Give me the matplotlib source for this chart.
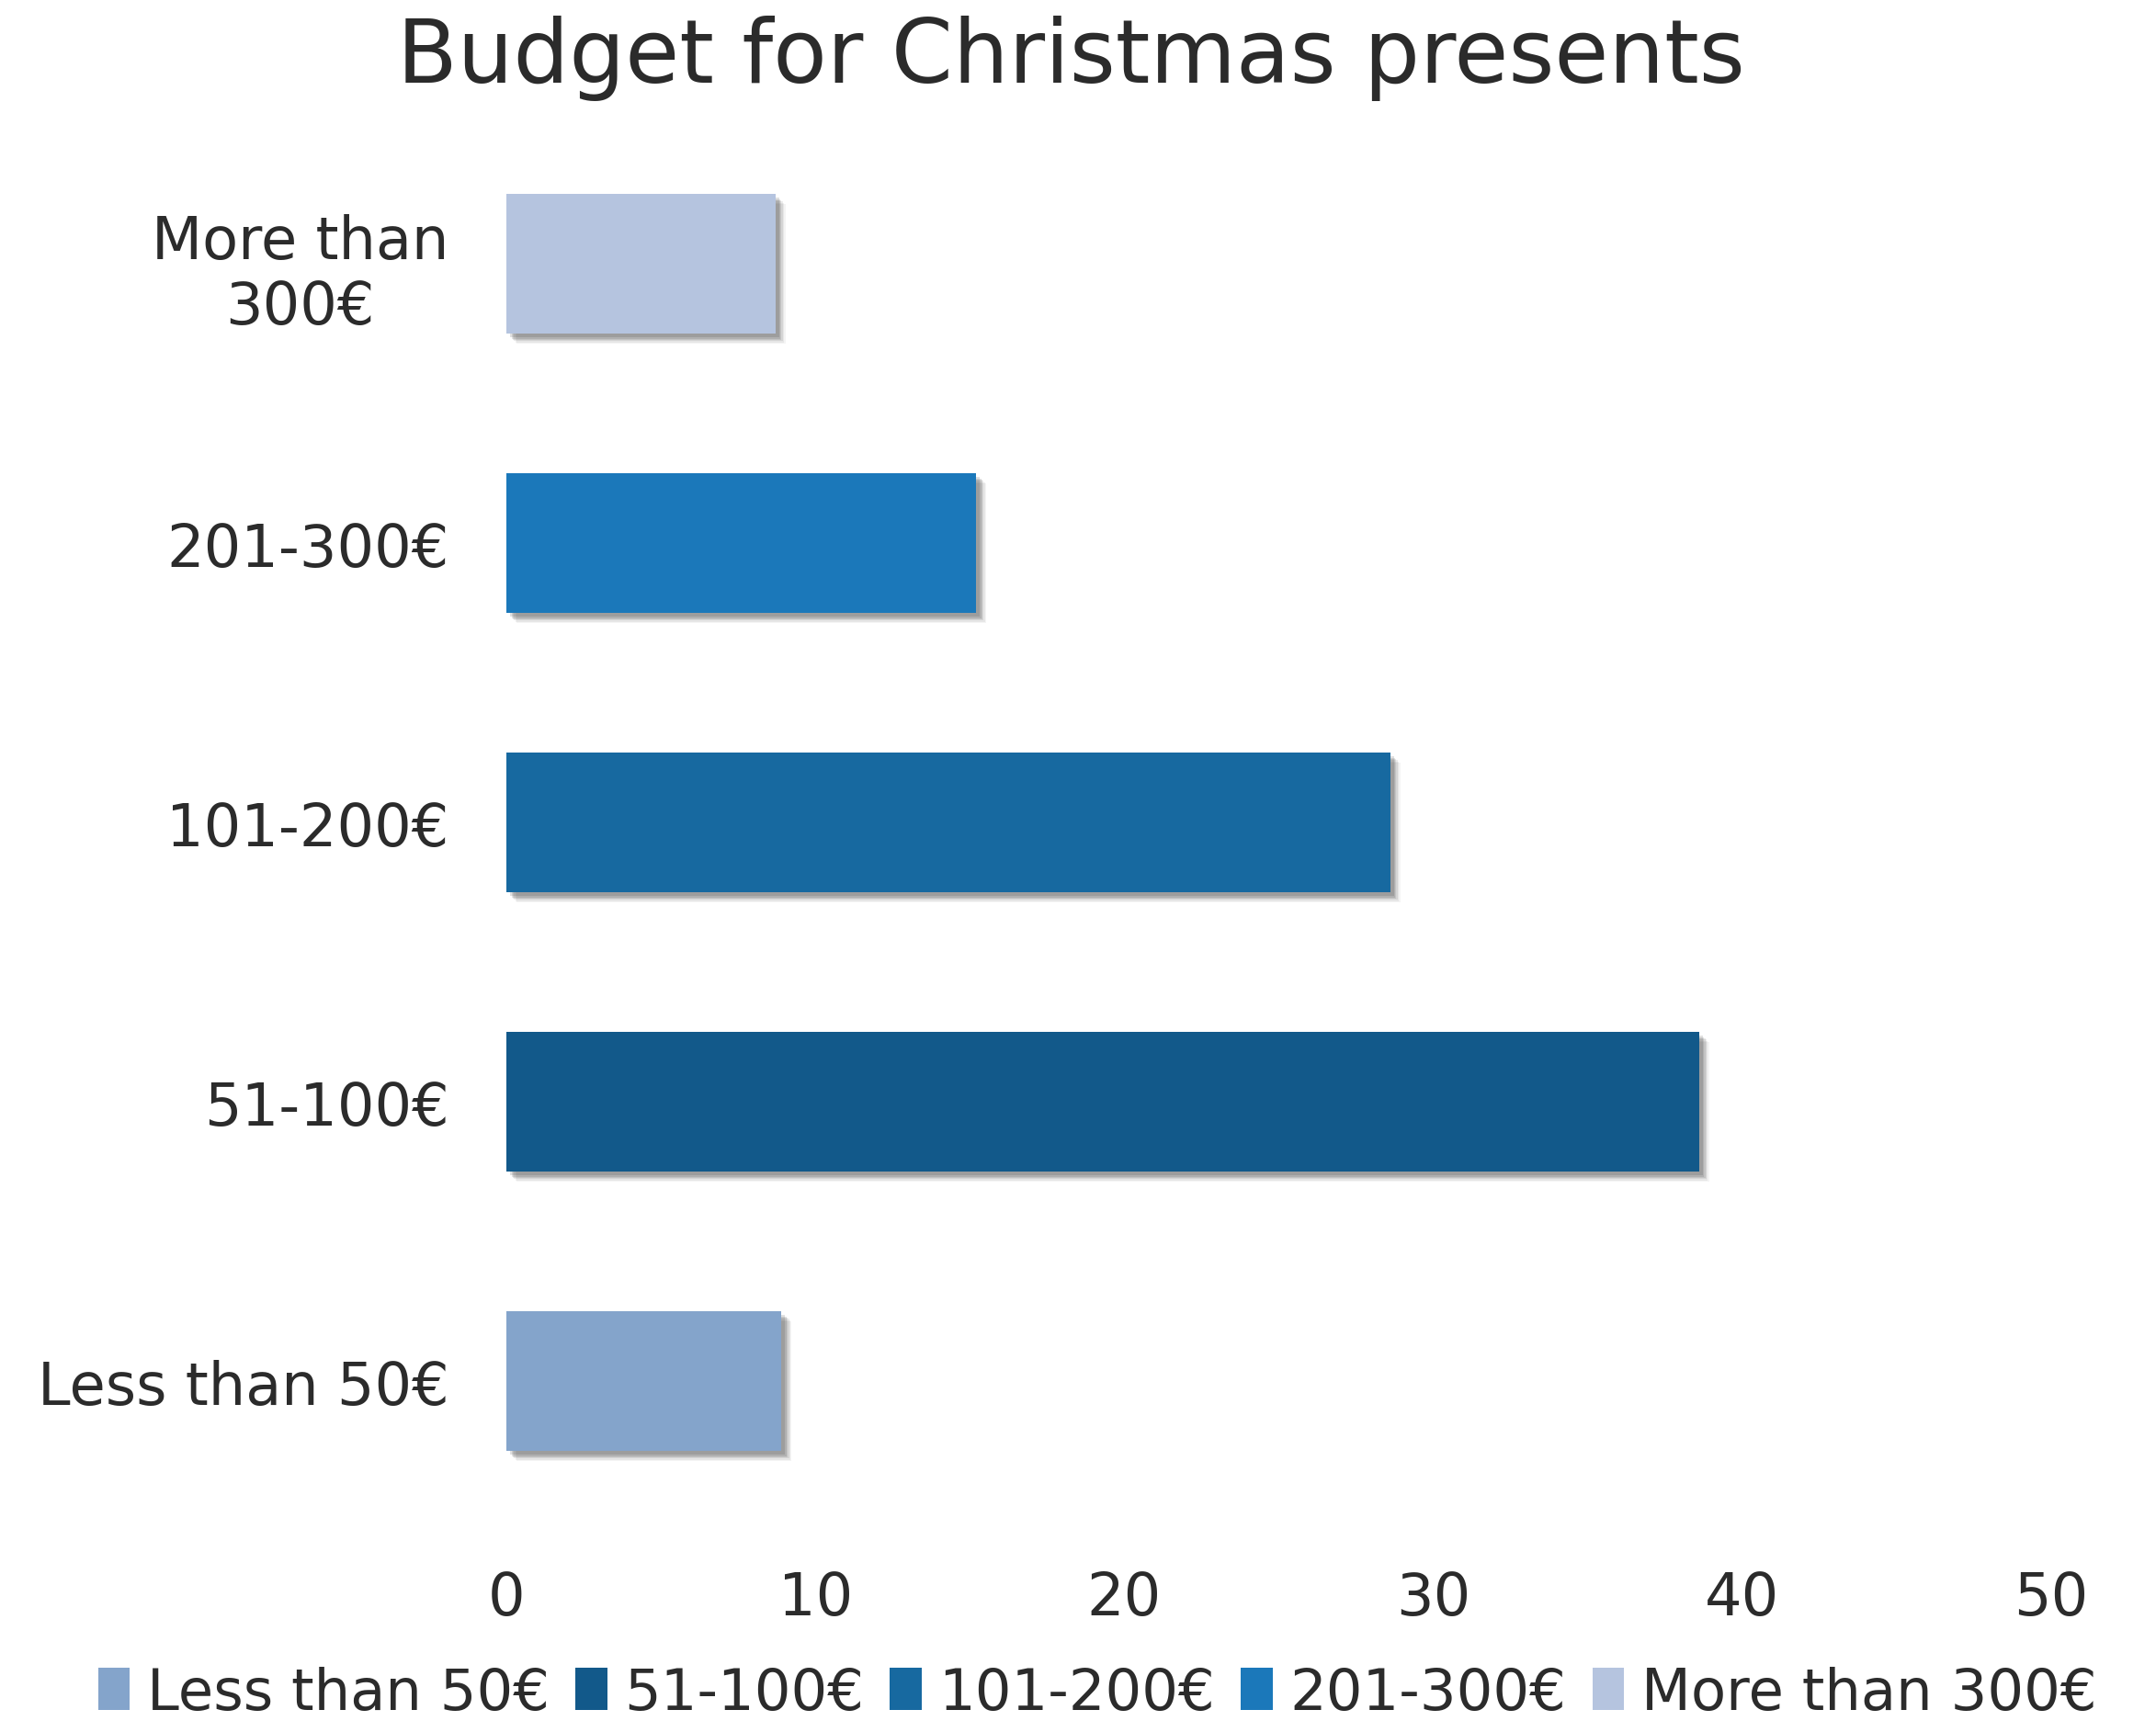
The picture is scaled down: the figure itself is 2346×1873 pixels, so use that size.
import matplotlib
matplotlib.use("Agg")
import matplotlib.pyplot as plt
import matplotlib.patheffects as pe
from matplotlib.patches import Patch

categories = ["Less than 50€", "51-100€", "101-200€", "201-300€", "More than 300€"]
tick_labels = ["Less than 50€", "51-100€", "101-200€", "201-300€", "More than\n300€"]
values = [8.9, 38.6, 28.6, 15.2, 8.7]
colors = ["#84A4CB", "#12598A", "#1769A0", "#1B78BA", "#B5C4DF"]
xticks = [0, 10, 20, 30, 40, 50]

plt.rcParams['font.family'] = ['DejaVu Sans']
text_color = "#2b2b2b"

fig = plt.figure(figsize=(23.46, 18.74), dpi=100)
ax = fig.add_axes([0.2349, 0.1163, 0.9514 - 0.2349, 0.9274 - 0.1163])

shadow = [pe.SimplePatchShadow(offset=(o, -o), shadow_rgbFace="#333333", alpha=a)
          for o, a in [(8, 0.05), (7, 0.07), (6, 0.09), (5, 0.11), (4, 0.13), (3, 0.15)]] + [pe.Normal()]
bars = ax.barh(range(len(categories)), values, height=0.5, color=colors)
for b in bars:
    b.set_path_effects(shadow)

ax.set_xlim(0, 50)
ax.set_ylim(-0.5, len(categories) - 0.5)
ax.set_xticks(xticks)
ax.set_xticklabels([str(t) for t in xticks])
ax.set_yticks(range(len(categories)))
ax.set_yticklabels(tick_labels, multialignment='center')
for s in ax.spines.values():
    s.set_visible(False)
ax.tick_params(axis='both', length=0, labelsize=46, colors=text_color)
ax.tick_params(axis='y', pad=45)
ax.tick_params(axis='x', pad=38)

fig.text(0.4966, 0.966, "Budget for Christmas presents", ha='center', va='center',
         fontsize=69, color=text_color)

handles = [Patch(facecolor=c, edgecolor='none') for c in colors]
fig.legend(handles, categories, loc='center', bbox_to_anchor=(0.509, 0.016), ncol=5,
           frameon=False, fontsize=45, handlelength=0.55, handleheight=0.75,
           handletextpad=0.3, columnspacing=0.45, labelcolor=text_color)

fig.savefig("out.png", dpi=100, facecolor="white")
